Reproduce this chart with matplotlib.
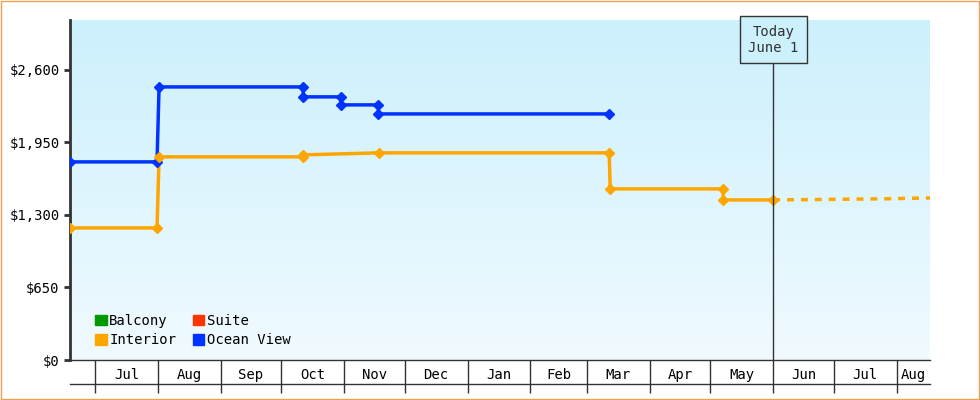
import numpy as np
import matplotlib.pyplot as plt
from matplotlib.patches import Rectangle
from matplotlib.colors import LinearSegmentedColormap

plt.rcParams['font.family'] = ['DejaVu Sans Mono']

# days counted from Jul 1
month_starts = [0, 31, 62, 92, 123, 153, 184, 215, 243, 274, 304, 335, 365, 396]
month_labels = ['Jul', 'Aug', 'Sep', 'Oct', 'Nov', 'Dec', 'Jan', 'Feb', 'Mar', 'Apr', 'May', 'Jun', 'Jul', 'Aug']
x_min, x_max = -12.4, 412.5
today = 335

interior_x = [-12.4, 30.6, 30.6, 31.6, 102.8, 102.8, 140.4, 254.0, 254.0, 254.5, 310.3, 310.3, 335.0]
interior_y = [1184, 1184, 1184, 1821, 1821, 1839, 1857, 1857, 1857, 1534, 1534, 1435, 1435]
interior_pts_x = [-12.4, 30.6, 31.6, 102.8, 102.8, 140.4, 254.0, 254.5, 310.3, 310.3, 335.0]
interior_pts_y = [1184, 1184, 1821, 1821, 1839, 1857, 1857, 1534, 1534, 1435, 1435]
forecast_x = [335.0, 390.0, 412.5]
forecast_y = [1435, 1445, 1453]

ocean_x = [-12.4, 30.6, 31.6, 102.8, 102.8, 121.5, 121.5, 140.0, 140.0, 254.0]
ocean_y = [1776, 1776, 2448, 2448, 2359, 2359, 2287, 2287, 2206, 2206]

legend_names = ['Balcony', 'Suite', 'Interior', 'Ocean View']
legend_colors = ['#009900', '#FF3300', '#FFA500', '#0033FF']

fig = plt.figure(figsize=(9.8, 4.0), dpi=100)
fig.patches.append(Rectangle((0.001, 0.002), 0.998, 0.995, transform=fig.transFigure,
                             fill=False, edgecolor='#F0A050', lw=1))
ax = fig.add_axes([70 / 980, 40 / 400, 860 / 980, 340 / 400])
ymax = 3048
ax.set_xlim(x_min, x_max)
ax.set_ylim(0, ymax)

cmap = LinearSegmentedColormap.from_list('bg', ['#F0FAFF', '#CCF0FC'])
ax.imshow(np.linspace(0, 1, 256).reshape(-1, 1), cmap=cmap, aspect='auto',
          extent=[x_min, x_max, 0, ymax], origin='lower', zorder=0)

ax.plot(interior_x, interior_y, color='#FFA500', lw=2.5, zorder=3)
ax.plot(interior_pts_x, interior_pts_y, 'D', color='#FFA500', ms=5, zorder=4)
ax.plot(forecast_x, forecast_y, color='#FFA500', lw=2.5, ls=(0, (2, 2)), zorder=3)
ax.plot(ocean_x, ocean_y, color='#0033FF', lw=2.5, marker='D', ms=5, zorder=3)

ax.axvline(today, color='#333333', lw=1, zorder=5)
ax.text(today, 2870, 'Today\nJune 1', ha='center', va='center', fontsize=10, color='#333333',
        bbox=dict(boxstyle='square,pad=0.6', fc='#CCF0FC', ec='#333333', lw=1), zorder=6)

ax.set_yticks([0, 650, 1300, 1950, 2600])
ax.set_yticklabels(['$0', '$650', '$1,300', '$1,950', '$2,600'], fontsize=10)
ax.tick_params(axis='y', length=4, width=2, color='#333333')

ax.set_xticks(month_starts)
ax.set_xticklabels([])
ax.tick_params(axis='x', which='major', length=24, width=1, color='#333333')
centers = [(a + min(b, x_max)) / 2 for a, b in zip(month_starts, month_starts[1:] + [x_max])]
ax.set_xticks(centers, minor=True)
ax.set_xticklabels(month_labels, minor=True, fontsize=10)
ax.tick_params(axis='x', which='minor', length=0, pad=6)
ax.plot([x_min, x_max], [-ymax * 24 / 340] * 2, color='#333333', lw=1, clip_on=False)

for s in ['top', 'right']:
    ax.spines[s].set_visible(False)
ax.spines['left'].set_linewidth(2)
ax.spines['bottom'].set_linewidth(1)
ax.spines['left'].set_color('#333333')
ax.spines['bottom'].set_color('#333333')

handles = [Rectangle((0, 0), 1, 1, color=c) for c in legend_colors]
order = [0, 2, 1, 3]
ax.legend([handles[i] for i in order], [legend_names[i] for i in order], ncol=2,
          loc='lower left', bbox_to_anchor=(0.015, 0.0), frameon=False, fontsize=10,
          handlelength=0.8, handleheight=0.8, handletextpad=0.2, columnspacing=1.2, labelspacing=0.4)

fig.savefig('out.png', dpi=100)
